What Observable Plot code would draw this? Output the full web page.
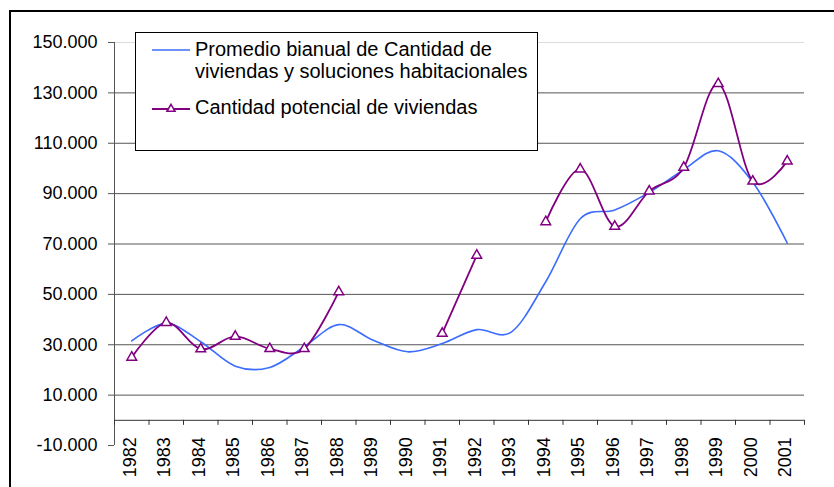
<!DOCTYPE html>
<html>
<head>
<meta charset="utf-8">
<script src="https://cdn.jsdelivr.net/npm/d3@7"></script>
<script src="https://cdn.jsdelivr.net/npm/@observablehq/plot@0.6"></script>
<style>
  body { margin: 0; background: #fff; font-family: Arial, "Liberation Sans", sans-serif; }
  #wrap { position: relative; width: 834px; height: 487px; overflow: hidden; background: #fff; }
  #frame { position: absolute; left: 9px; top: 10px; width: 900px; height: 600px; border: 2px solid #000; box-sizing: border-box; }
  #chart { position: absolute; left: 0; top: 0; }
  #legend { position: absolute; left: 135px; top: 32px; }
</style>
</head>
<body>
<div id="wrap">
  <div id="frame"></div>
  <div id="chart"></div>
  <div id="legend"></div>
</div>
<script>
// ---- data ----
const years = [1982, 1983, 1984, 1985, 1986, 1987, 1988, 1989, 1990, 1991,
               1992, 1993, 1994, 1995, 1996, 1997, 1998, 1999, 2000, 2001];
const promedio = [31500, 38500, 31200, 21500, 21000, 29200, 38000, 31800, 27200, 30500,
                  36000, 35000, 55000, 80000, 83500, 90500, 99500, 107000, 94500, 70400];
const potencial = [25000, 38800, 28300, 33300, 28400, 28400, 51000, null, null, 34500,
                   65500, null, 78800, 99700, 77000, 91000, 100400, 133600, 94900, 102900];
const yTicks = [-10000, 10000, 30000, 50000, 70000, 90000, 110000, 130000, 150000];
const seriesNames = ["Promedio bianual de Cantidad de", "viviendas y soluciones habitacionales", "Cantidad potencial de viviendas"];

const blue = "#3b6cff";
const purple = "#800080";

const rows = years.map((yr, i) => ({year: yr, promedio: promedio[i], potencial: potencial[i]}));
const boundaries = [...years.map(y => y - 0.5), years[years.length - 1] + 0.5];
const grid = yTicks.filter(v => v > 0 && v < 150000);

const locale = d3.formatLocale({decimal: ",", thousands: ".", grouping: [3], currency: ["$", ""], minus: "-"});
const fmt = locale.format(",");

const chart = Plot.plot({
  width: 834,
  height: 487,
  marginLeft: 114,
  marginRight: 30,
  marginTop: 42,
  marginBottom: 42,
  style: {fontFamily: 'Arial, "Liberation Sans", sans-serif', fontSize: "18px", color: "#000", background: "transparent"},
  x: {type: "linear", domain: [1981.5, 2001.5], axis: null},
  y: {domain: [-10000, 150000], axis: null},
  marks: [
    Plot.ruleY([150000], {stroke: "#dcdcdc", strokeWidth: 1}),
    Plot.ruleY(grid, {stroke: "#555", strokeWidth: 1}),
    Plot.axisY({ticks: yTicks, tickFormat: fmt, tickSize: 6, tickPadding: 11, fontSize: 18, stroke: "#555"}),
    Plot.ruleX([1981.5], {y1: -10000, y2: 150000, stroke: "#555"}),
    Plot.ruleY([0], {stroke: "#333"}),
    Plot.ruleX(boundaries, {x: d => d, y1: 0, y2: -2000, stroke: "#333"}),
    Plot.text(years, {x: d => d, y: 0, text: d => String(d), rotate: -90, textAnchor: "end", lineAnchor: "middle", dy: 17, dx: -2, fontSize: 18, fill: "#000"}),
    Plot.line(rows, {x: "year", y: "promedio", curve: "cardinal", stroke: blue, strokeWidth: 1.6}),
    Plot.line(rows, {x: "year", y: "potencial", curve: "cardinal", stroke: purple, strokeWidth: 1.8}),
    Plot.dot(rows, {x: "year", y: "potencial", symbol: "triangle", r: 3.6, stroke: purple, fill: "white", strokeWidth: 1.5})
  ]
});
document.getElementById("chart").appendChild(chart);

// ---- legend ----
const lg = d3.select("#legend").append("svg").attr("width", 403).attr("height", 119)
  .style("font-family", 'Arial, "Liberation Sans", sans-serif');
lg.append("rect").attr("x", 0.5).attr("y", 0.5).attr("width", 402).attr("height", 118)
  .attr("fill", "#fff").attr("stroke", "#000").attr("stroke-width", 1);
lg.append("line").attr("x1", 17).attr("x2", 55).attr("y1", 18).attr("y2", 18)
  .attr("stroke", blue).attr("stroke-width", 1.6);
lg.append("line").attr("x1", 17).attr("x2", 55).attr("y1", 77).attr("y2", 77)
  .attr("stroke", purple).attr("stroke-width", 1.8);
lg.append("path").attr("d", d3.symbol(d3.symbolTriangle, Math.PI * 3 * 3)())
  .attr("transform", "translate(36,77)").attr("fill", "#fff").attr("stroke", purple).attr("stroke-width", 1.5);
const tx = [[60, 23.5, seriesNames[0]], [60, 45.5, seriesNames[1]], [60, 81.5, seriesNames[2]]];
tx.forEach(([x, y, t]) => lg.append("text").attr("x", x).attr("y", y).attr("font-size", 20).attr("fill", "#000").text(t));
</script>
</body>
</html>
